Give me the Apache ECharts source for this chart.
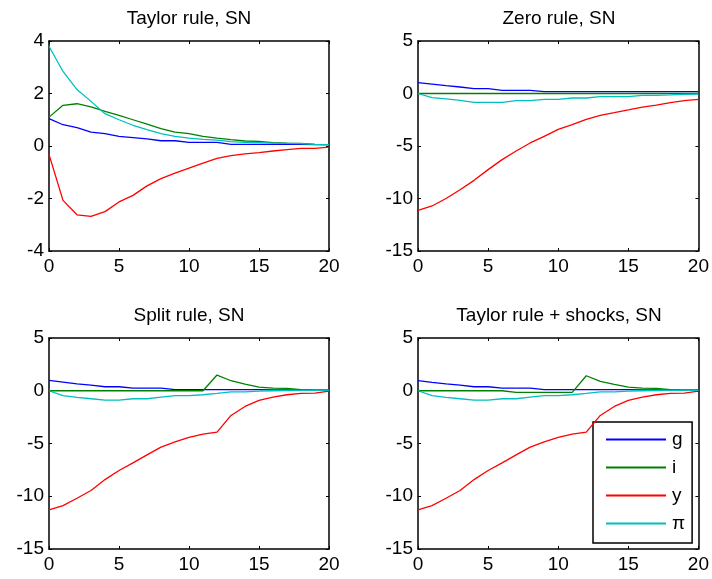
<!DOCTYPE html>
<html>
<head>
<meta charset="utf-8">
<script src="https://cdn.jsdelivr.net/npm/echarts@6/dist/echarts.min.js"></script>
<style>html,body{margin:0;padding:0;background:#fff;}#c{width:712px;height:579px;}</style>
</head>
<body>
<div id="c"></div>
<script>
var periods = [0,1,2,3,4,5,6,7,8,9,10,11,12,13,14,15,16,17,18,19,20];
var seriesNames = ['g','i','y','\u03c0'];
var titles = ['Taylor rule, SN','Zero rule, SN','Split rule, SN','Taylor rule + shocks, SN'];

// Panel 1: Taylor rule
var g1 = [1.04,0.81,0.70,0.53,0.47,0.37,0.32,0.27,0.20,0.20,0.14,0.14,0.14,0.06,0.06,0.06,0.06,0.06,0.06,0.05,0.05];
var i1 = [1.10,1.55,1.61,1.49,1.32,1.17,1.00,0.83,0.66,0.53,0.47,0.37,0.30,0.24,0.19,0.18,0.13,0.11,0.10,0.06,0.05];
var y1 = [-0.32,-2.07,-2.62,-2.68,-2.50,-2.13,-1.88,-1.52,-1.24,-1.03,-0.84,-0.65,-0.47,-0.37,-0.30,-0.25,-0.19,-0.14,-0.09,-0.09,-0.04];
var p1 = [3.80,2.84,2.15,1.70,1.23,1.00,0.79,0.62,0.47,0.37,0.30,0.25,0.22,0.17,0.14,0.13,0.11,0.10,0.09,0.06,0.05];
// Panel 2: Zero rule
var g2 = [1.03,0.90,0.75,0.62,0.46,0.46,0.30,0.30,0.30,0.17,0.17,0.17,0.17,0.17,0.17,0.17,0.17,0.17,0.17,0.17,0.17];
var i2 = [0,0,0,0,0,0,0,0,0,0,0,0,0,0,0,0,0,0,0,0,0];
var y2 = [-11.13,-10.71,-10.00,-9.16,-8.27,-7.25,-6.30,-5.48,-4.71,-4.08,-3.41,-2.97,-2.46,-2.08,-1.83,-1.57,-1.29,-1.10,-0.87,-0.68,-0.56];
var p2 = [0,-0.40,-0.52,-0.65,-0.84,-0.84,-0.84,-0.68,-0.68,-0.56,-0.56,-0.43,-0.43,-0.30,-0.30,-0.30,-0.17,-0.17,-0.14,-0.08,-0.05];
// Panel 3: Split rule
var g3 = [0.98,0.82,0.66,0.54,0.38,0.38,0.25,0.25,0.25,0.10,0.10,0.10,0.10,0.10,0.10,0.10,0.08,0.07,0.06,0.05,0.05];
var i3 = [0,0,0,0,0,0,0,0,0,0,0,0,1.49,0.95,0.63,0.35,0.25,0.22,0.10,0.06,0.05];
var y3 = [-11.30,-10.89,-10.19,-9.46,-8.42,-7.56,-6.84,-6.08,-5.35,-4.84,-4.43,-4.11,-3.92,-2.34,-1.49,-0.92,-0.60,-0.38,-0.25,-0.22,-0.03];
var p3 = [0,-0.47,-0.63,-0.76,-0.89,-0.89,-0.76,-0.76,-0.60,-0.47,-0.47,-0.38,-0.25,-0.10,-0.10,-0.04,0.00,0.02,0.03,0.03,0.03];
// Panel 4: Taylor rule + shocks
var g4 = [0.95,0.80,0.66,0.54,0.38,0.38,0.25,0.25,0.25,0.10,0.10,0.10,0.10,0.10,0.10,0.10,0.08,0.07,0.06,0.05,0.05];
var i4 = [0,0,0,0,0,0,0,-0.15,-0.15,-0.15,-0.15,-0.15,1.42,0.88,0.60,0.35,0.25,0.22,0.10,0.06,0.05];
var y4 = [-11.30,-10.89,-10.19,-9.46,-8.42,-7.56,-6.84,-6.08,-5.35,-4.84,-4.43,-4.11,-3.92,-2.34,-1.49,-0.92,-0.60,-0.38,-0.25,-0.22,-0.03];
var p4 = [0,-0.47,-0.63,-0.76,-0.89,-0.89,-0.76,-0.76,-0.60,-0.47,-0.47,-0.38,-0.25,-0.10,-0.10,-0.04,0.00,0.02,0.03,0.03,0.03];

var xTicks = {min:0, max:20, interval:5};
var yRanges = [{min:-4,max:4,interval:2},{min:-15,max:5,interval:5},{min:-15,max:5,interval:5},{min:-15,max:5,interval:5}];
var panels = [[g1,i1,y1,p1],[g2,i2,y2,p2],[g3,i3,y3,p3],[g4,i4,y4,p4]];
var colors = ['#0000ff','#008000','#ff0000','#00bfbf'];

var boxes = [
  {left:49, top:41, width:280, height:210},
  {left:418, top:41, width:282, height:210},
  {left:49, top:338, width:280, height:211},
  {left:418, top:338, width:282, height:211}
];
var FONT = 'Liberation Sans, Arial, sans-serif';

var option = {
  animation:false,
  backgroundColor:'#fff',
  title:[], grid:[], xAxis:[], yAxis:[], series:[],
  legend:{
    data:seriesNames.map(function(n,j){ return {name:n, icon:'rect', itemStyle:{color:colors[j]}}; }),
    orient:'vertical',
    left:593, top:422,
    itemWidth:60, itemHeight:2, itemGap:9,
    padding:[8,7,10,13],
    borderColor:'#000', borderWidth:1.5,
    backgroundColor:'#fff',
    textStyle:{fontFamily:FONT, fontSize:19, color:'#000', padding:[0,0,0,1]}
  }
};

function lineAxisStyle(){ return {show:true, onZero:false, lineStyle:{color:'#000', width:1.5}}; }

for (var k=0;k<4;k++){
  var b = boxes[k];
  option.grid.push({left:b.left, top:b.top, width:b.width, height:b.height, containLabel:false, show:false});
  option.title.push({text:titles[k], left:b.left + b.width/2, top:b.top - 32, textAlign:'center', padding:0,
    textStyle:{fontFamily:FONT, fontSize:19, fontWeight:'normal', color:'#000'}});
  option.xAxis.push({type:'value', gridIndex:k, position:'bottom', min:xTicks.min, max:xTicks.max, interval:xTicks.interval,
    axisLine:lineAxisStyle(), axisTick:{show:true, inside:true, length:3, lineStyle:{color:'#000'}},
    axisLabel:{color:'#000', fontFamily:FONT, fontSize:19, margin:6}, splitLine:{show:false}});
  option.xAxis.push({type:'value', gridIndex:k, position:'top', min:xTicks.min, max:xTicks.max, interval:xTicks.interval,
    axisLine:lineAxisStyle(), axisTick:{show:true, inside:true, length:3, lineStyle:{color:'#000'}},
    axisLabel:{show:false}, splitLine:{show:false}});
  var yr = yRanges[k];
  option.yAxis.push({type:'value', gridIndex:k, position:'left', min:yr.min, max:yr.max, interval:yr.interval,
    axisLine:lineAxisStyle(), axisTick:{show:true, inside:true, length:3, lineStyle:{color:'#000'}},
    axisLabel:{color:'#000', fontFamily:FONT, fontSize:19, margin:5}, splitLine:{show:false}});
  option.yAxis.push({type:'value', gridIndex:k, position:'right', min:yr.min, max:yr.max, interval:yr.interval,
    axisLine:lineAxisStyle(), axisTick:{show:true, inside:true, length:3, lineStyle:{color:'#000'}},
    axisLabel:{show:false}, splitLine:{show:false}});
  for (var s=0;s<4;s++){
    var vals = panels[k][s];
    option.series.push({
      name:seriesNames[s], type:'line', xAxisIndex:2*k, yAxisIndex:2*k,
      data: periods.map(function(t,j){ return [t, vals[j]]; }),
      symbol:'none', showSymbol:false, smooth:false,
      lineStyle:{color:colors[s], width:1.3}, itemStyle:{color:colors[s]},
      z: 2 + s
    });
  }
}

var chart = echarts.init(document.getElementById('c'), null, {renderer:'canvas'});
chart.setOption(option);
</script>
</body>
</html>
